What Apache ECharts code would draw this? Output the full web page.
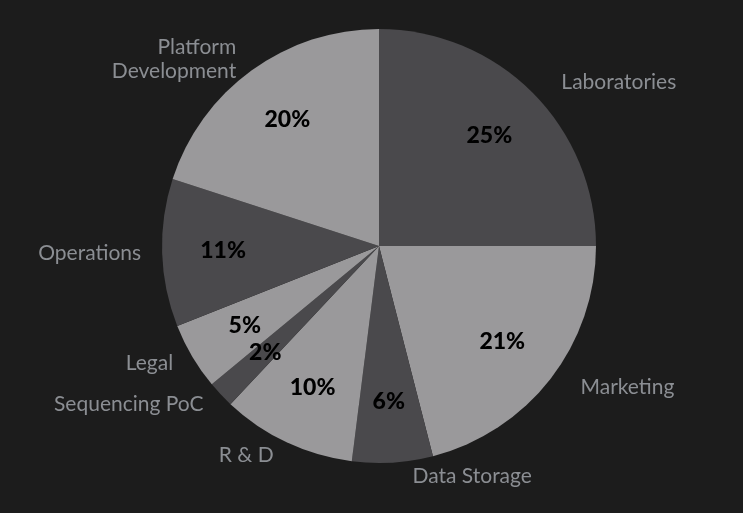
<!DOCTYPE html>
<html>
<head>
<meta charset="utf-8">
<script src="https://cdn.jsdelivr.net/npm/echarts@6/dist/echarts.min.js"></script>
<style>
html,body{margin:0;padding:0;background:#1c1c1c;}
#chart{width:743px;height:513px;}
</style>
</head>
<body>
<div id="chart"></div>
<script>
const categories = ['Laboratories', 'Marketing', 'Data Storage', 'R & D', 'Sequencing PoC', 'Legal', 'Operations', 'Platform\nDevelopment'];
const values = [25, 21, 6, 10, 2, 5, 11, 20];
const sliceColors = ['#4a494c', '#9a999b', '#4a494c', '#9a999b', '#4a494c', '#9a999b', '#4a494c', '#9a999b'];

const chart = echarts.init(document.getElementById('chart'));
const baseData = categories.map((name, i) => ({ name, value: values[i], itemStyle: { color: sliceColors[i] } }));
const labelData = categories.map((name, i) => ({ name, value: values[i] }));

chart.setOption({
  backgroundColor: '#1c1c1c',
  animation: false,
  series: [
    {
      type: 'pie',
      center: [379, 246],
      radius: 217,
      startAngle: 90,
      clockwise: true,
      data: baseData,
      label: {
        show: true,
        position: 'outside',
        fontFamily: 'Lato',
        fontSize: 21,
        color: '#8b8e93',
        lineHeight: 24,
        padding: [0, 0, 0, 12],
        formatter: '{b}'
      },
      labelLine: { show: false, length: 14, length2: 2 },
      itemStyle: { borderWidth: 0 }
    },
    {
      type: 'pie',
      center: [379, 246],
      radius: [89, 217],
      startAngle: 90,
      clockwise: true,
      silent: true,
      data: labelData,
      itemStyle: { color: 'rgba(0,0,0,0)' },
      label: {
        show: true,
        position: 'inside',
        fontFamily: 'Lato',
        fontWeight: 900,
        fontSize: 23,
        color: '#000000',
        formatter: '{c}%'
      },
      labelLine: { show: false }
    }
  ]
});
</script>
</body>
</html>
